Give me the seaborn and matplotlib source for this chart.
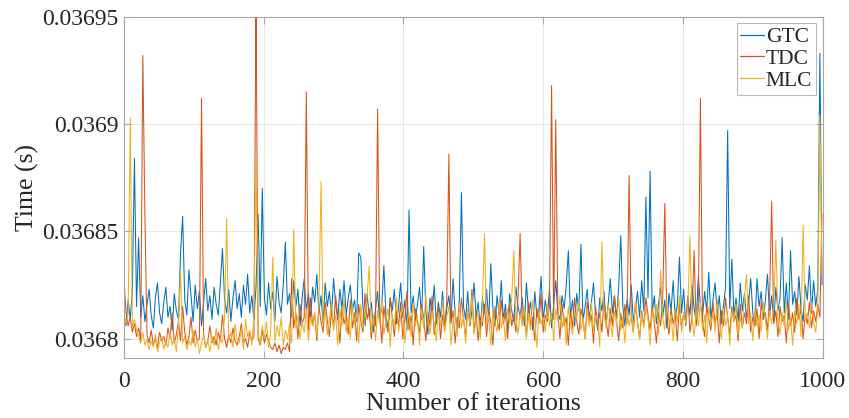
import numpy as np
import pandas as pd
import matplotlib
matplotlib.use("Agg")
import matplotlib.pyplot as plt
import seaborn as sns

# Execution time per iteration, in microseconds (sampled every 3 iterations)
gtc_us = [
    36812, 36806, 36818, 36809, 36822, 36884, 36815, 36847, 36810, 36820,
    36808, 36816, 36823, 36811, 36805, 36819, 36826, 36812, 36807, 36817,
    36824, 36810, 36815, 36804, 36821, 36813, 36809, 36840, 36857, 36818,
    36811, 36832, 36820, 36808, 36825, 36814, 36822, 36806, 36817, 36828,
    36813, 36820, 36809, 36824, 36816, 36811, 36826, 36842, 36818, 36812,
    36823, 36808, 36819, 36827, 36814, 36821, 36810, 36825, 36816, 36830,
    36812, 36820, 36809, 36824, 36858, 36815, 36870, 36819, 36811, 36826,
    36814, 36822, 36808, 36829, 36817, 36812, 36825, 36845, 36816, 36821,
    36810, 36827, 36815, 36823, 36806, 36819, 36828, 36813, 36821, 36809,
    36824, 36817, 36830, 36812, 36820, 36807, 36826, 36815, 36822, 36811,
    36828, 36816, 36809, 36823, 36814, 36827, 36811, 36819, 36825, 36813,
    36818, 36808, 36840, 36838, 36815, 36806, 36821, 36810, 36817, 36803,
    36814, 36822, 36808, 36816, 36834, 36811, 36805, 36819, 36813, 36823,
    36807, 36815, 36826, 36810, 36818, 36804, 36860, 36812, 36820, 36808,
    36816, 36824, 36809, 36843, 36813, 36802, 36819, 36811, 36825, 36807,
    36817, 36810, 36822, 36805, 36814, 36820, 36808, 36828, 36812, 36803,
    36818, 36868, 36815, 36809, 36822, 36806, 36813, 36826, 36810, 36817,
    36804, 36819, 36812, 36823, 36808, 36835, 36814, 36806, 36820, 36811,
    36827, 36809, 36816, 36803, 36821, 36813, 36808, 36824, 36815, 36810,
    36819, 36806, 36826, 36812, 36817, 36804, 36822, 36810, 36814, 36829,
    36808, 36818, 36811, 36823, 36805, 36816, 36827, 36812, 36809, 36820,
    36814, 36825, 36841, 36810, 36818, 36806, 36821, 36813, 36844, 36808,
    36815, 36823, 36809, 36817, 36826, 36811, 36804, 36819, 36813, 36822,
    36807, 36816, 36828, 36812, 36820, 36809, 36824, 36848, 36815, 36806,
    36818, 36811, 36825, 36808, 36814, 36822, 36810, 36827, 36813, 36866,
    36819, 36878, 36812, 36820, 36807, 36816, 36824, 36810, 36818, 36805,
    36821, 36813, 36827, 36809, 36816, 36838, 36812, 36823, 36806, 36819,
    36811, 36825, 36814, 36808, 36829, 36816, 36810, 36822, 36813, 36831,
    36809, 36818, 36826, 36812, 36820, 36807, 36815, 36824, 36897, 36814,
    36837, 36811, 36819, 36808, 36826, 36813, 36821, 36810, 36817, 36828,
    36812, 36806, 36828, 36815, 36822, 36809, 36818, 36830, 36811, 36820,
    36808, 36824, 36813, 36819, 36847, 36812, 36826, 36809, 36841, 36816,
    36822, 36811, 36829, 36814, 36808, 36825, 36818, 36834, 36812, 36827,
    36815, 36823, 36933, 36825,
]

tdc_us = [
    36828, 36812, 36806, 36810, 36803, 36807, 36801, 36805, 36799, 36932,
    36857, 36802, 36798, 36804, 36797, 36800, 36796, 36803, 36799, 36801,
    36797, 36805, 36800, 36812, 36798, 36802, 36808, 36799, 36815, 36803,
    36797, 36801, 36810, 36798, 36804, 36799, 36800, 36912, 36802, 36796,
    36799, 36806, 36798, 36801, 36797, 36803, 36799, 36811, 36800, 36796,
    36802, 36798, 36805, 36799, 36797, 36801, 36807, 36798, 36800, 36796,
    36803, 36799, 36801, 36960, 36800, 36797, 36804, 36798, 36802, 36799,
    36796, 36795, 36798, 36794, 36797, 36793, 36796, 36795, 36798, 36794,
    36828, 36805, 36812, 36800, 36816, 36807, 36810, 36915, 36804, 36819,
    36806, 36812, 36799, 36815, 36808, 36803, 36817, 36809, 36801, 36813,
    36806, 36820, 36810, 36798, 36814, 36807, 36811, 36802, 36818, 36805,
    36812, 36799, 36816, 36808, 36803, 36821, 36809, 36814, 36800, 36811,
    36806, 36907, 36812, 36798, 36815, 36807, 36803, 36819, 36810, 36801,
    36813, 36806, 36817, 36800, 36809, 36822, 36804, 36811, 36797, 36814,
    36808, 36803, 36816, 36810, 36799, 36812, 36806, 36820, 36802, 36809,
    36815, 36800, 36811, 36804, 36818, 36886, 36807, 36813, 36798, 36810,
    36805, 36819, 36809, 36801, 36814, 36807, 36823, 36803, 36812, 36799,
    36810, 36806, 36816, 36801, 36813, 36808, 36797, 36815, 36809, 36804,
    36818, 36807, 36812, 36800, 36816, 36806, 36811, 36803, 36820, 36849,
    36808, 36813, 36801, 36817, 36806, 36810, 36799, 36814, 36807, 36821,
    36803, 36811, 36808, 36815, 36918, 36809, 36902, 36812, 36800, 36816,
    36806, 36810, 36797, 36813, 36805, 36819, 36808, 36802, 36814, 36809,
    36800, 36817, 36807, 36811, 36798, 36815, 36806, 36812, 36803, 36818,
    36809, 36801, 36814, 36806, 36820, 36808, 36799, 36812, 36805, 36816,
    36807, 36876, 36810, 36803, 36817, 36808, 36800, 36813, 36806, 36819,
    36811, 36804, 36815, 36808, 36798, 36812, 36806, 36818, 36863, 36809,
    36802, 36814, 36807, 36811, 36799, 36816, 36805, 36812, 36808, 36820,
    36803, 36810, 36841, 36806, 36814, 36912, 36808, 36801, 36815, 36809,
    36804, 36817, 36807, 36812, 36798, 36813, 36806, 36819, 36810, 36802,
    36815, 36808, 36811, 36799, 36816, 36805, 36812, 36807, 36820, 36803,
    36810, 36806, 36814, 36800, 36817, 36809, 36812, 36804, 36818, 36864,
    36807, 36813, 36801, 36815, 36808, 36811, 36798, 36816, 36806, 36812,
    36803, 36819, 36809, 36814, 36800, 36811, 36807, 36817, 36805, 36813,
    36808, 36816, 36810, 36858,
]

mlc_us = [
    36810, 36807, 36812, 36903, 36806, 36809, 36804, 36801, 36798, 36803,
    36797, 36800, 36795, 36799, 36796, 36802, 36794, 36798, 36801, 36795,
    36799, 36796, 36803, 36797, 36800, 36794, 36806, 36832, 36798, 36801,
    36795, 36799, 36797, 36804, 36796, 36800, 36793, 36798, 36802, 36796,
    36799, 36794, 36801, 36797, 36805, 36795, 36800, 36798, 36810, 36856,
    36799, 36803, 36796, 36807, 36800, 36798, 36805, 36795, 36809, 36801,
    36804, 36797, 36811, 36885, 36802, 36798, 36806, 36800, 36808, 36796,
    36803, 36838, 36799, 36806, 36801, 36810, 36797, 36804, 36800, 36807,
    36798, 36851, 36805, 36811, 36800, 36808, 36803, 36814, 36799, 36810,
    36806, 36812, 36801, 36815, 36873, 36807, 36813, 36802, 36809, 36817,
    36804, 36811, 36797, 36814, 36806, 36819, 36803, 36810, 36800, 36815,
    36807, 36812, 36798, 36816, 36805, 36809, 36820, 36834, 36803, 36811,
    36799, 36813, 36807, 36818, 36802, 36809, 36814, 36796, 36811, 36806,
    36819, 36803, 36810, 36815, 36798, 36808, 36812, 36801, 36817, 36806,
    36811, 36797, 36814, 36805, 36821, 36809, 36802, 36813, 36807, 36799,
    36812, 36806, 36818, 36803, 36810, 36815, 36797, 36808, 36813, 36801,
    36816, 36805, 36811, 36798, 36814, 36807, 36820, 36802, 36809, 36812,
    36800, 36815, 36849, 36806, 36811, 36797, 36813, 36808, 36803, 36817,
    36805, 36810, 36799, 36814, 36807, 36819, 36841, 36809, 36802, 36812,
    36806, 36815, 36800, 36811, 36804, 36818, 36808, 36796, 36813, 36807,
    36810, 36803, 36816, 36806, 36812, 36799, 36814, 36808, 36820, 36805,
    36811, 36797, 36815, 36807, 36802, 36813, 36809, 36818, 36804, 36810,
    36800, 36814, 36806, 36817, 36803, 36811, 36808, 36796, 36845, 36812,
    36805, 36816, 36809, 36801, 36813, 36807, 36819, 36804, 36810, 36798,
    36814, 36806, 36811, 36803, 36817, 36808, 36800, 36812, 36805, 36815,
    36809, 36797, 36813, 36807, 36816, 36802, 36832, 36810, 36804, 36818,
    36806, 36811, 36799, 36814, 36808, 36820, 36803, 36812, 36807, 36815,
    36848, 36809, 36801, 36813, 36806, 36817, 36804, 36811, 36798, 36815,
    36807, 36812, 36803, 36818, 36809, 36800, 36814, 36806, 36811, 36797,
    36813, 36808, 36816, 36802, 36810, 36805, 36819, 36830, 36807, 36812,
    36799, 36814, 36806, 36811, 36803, 36817, 36809, 36800, 36813, 36807,
    36815, 36846, 36808, 36802, 36812, 36806, 36818, 36804, 36810, 36797,
    36813, 36807, 36816, 36801, 36853, 36809, 36812, 36805, 36817, 36808,
    36803, 36814, 36904, 36830,
]

series_names = ["GTC", "TDC", "MLC"]
series_colors = ["#0072BD", "#D95319", "#EDB120"]
x_ticks = [0, 200, 400, 600, 800, 1000]
y_ticks = [0.0368, 0.03685, 0.0369, 0.03695]
y_tick_labels = ["0.0368", "0.03685", "0.0369", "0.03695"]

frames = []
for name, vals in zip(series_names, [gtc_us, tdc_us, mlc_us]):
    v = np.array(vals, dtype=float) * 1e-6
    frames.append(pd.DataFrame({"iteration": np.arange(len(v)) * 3,
                                "time": v, "method": name}))
df = pd.concat(frames, ignore_index=True)

sns.set_theme(style="white")
plt.rcParams["font.family"] = ["Liberation Serif", "DejaVu Serif"]

fig = plt.figure(figsize=(8.49, 4.18), dpi=100)
ax = fig.add_axes([0.146, 0.1435, 0.823, 0.8165])

sns.lineplot(data=df, x="iteration", y="time", hue="method",
             hue_order=series_names, palette=series_colors,
             estimator=None, sort=False, linewidth=0.75, ax=ax)

ax.set_xlim(0, 1000)
ax.set_ylim(0.036791, 0.03695)
ax.set_xticks(x_ticks)
ax.set_xticklabels([str(t) for t in x_ticks])
ax.set_yticks(y_ticks)
ax.set_yticklabels(y_tick_labels)

ax.grid(True, color="#d9d9d9", linewidth=0.6, alpha=0.7)
for s in ax.spines.values():
    s.set_visible(True)
    s.set_color("#a6a6a6")
    s.set_linewidth(0.8)
ax.tick_params(direction="in", length=5, width=0.8, color="#a6a6a6",
               labelsize=17, labelcolor="#262626", top=True, right=True,
               bottom=True, left=True)
ax.tick_params(axis="x", pad=9)
ax.tick_params(axis="y", pad=4)

ax.set_xlabel("Number of iterations", fontsize=18.5, color="#262626", labelpad=1)
ax.set_ylabel("Time (s)", fontsize=18.5, color="#262626", labelpad=2)

leg = ax.legend(loc="upper right", fontsize=15.5, frameon=True, fancybox=False,
                handlelength=1.1, handletextpad=0.08, borderpad=0.18,
                labelspacing=0.08, borderaxespad=0.3)
leg.get_frame().set_edgecolor("#a6a6a6")
leg.get_frame().set_linewidth(0.8)
for line in leg.get_lines():
    line.set_linewidth(0.9)

fig.savefig("out.png", dpi=100)
